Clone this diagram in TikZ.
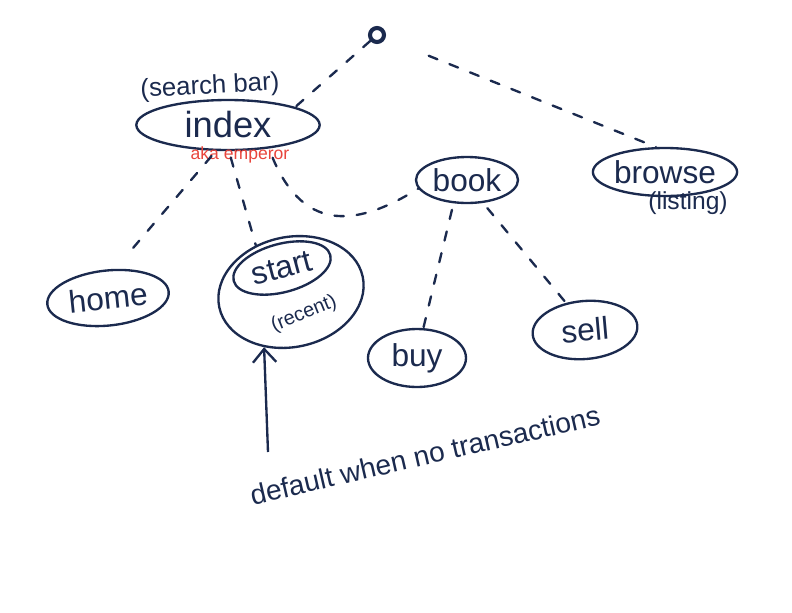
\documentclass[tikz,border=0pt]{standalone}
\usepackage{fontspec}
\setmainfont{Liberation Sans}
\usepackage{tikz}
\usetikzlibrary{arrows.meta,positioning,shapes.geometric}
\definecolor{ink}{HTML}{1B2A4E}
\definecolor{akared}{HTML}{E8453C}
\tikzset{
  pagenode/.style={draw=ink, ellipse, line width=2pt, text=ink, inner sep=0pt, font=\fontsize{27}{30}\selectfont},
  rootdot/.style={draw=ink, circle, line width=3.5pt, minimum size=4.2mm, inner sep=0pt},
  note/.style={text=ink, font=\fontsize{21}{24}\selectfont, inner sep=1pt},
  akanote/.style={text=akared, font=\fontsize{15}{17}\selectfont, inner sep=0pt},
  link/.style={draw=ink, line width=2pt, dash pattern=on 8pt off 11pt, line cap=round},
  pointer/.style={-{Straight Barb[length=4mm,width=7mm]}, draw=ink, line width=2pt},
}
\begin{document}
\begin{tikzpicture}[x=0.3mm, y=-0.3mm]
\useasboundingbox (0,0) rectangle (792,612);
% pages
\node[rootdot] (root) at (377,35) {};
\node[pagenode, minimum width=55mm, minimum height=15mm, font=\fontsize{31}{34}\selectfont] (index) at (228,125) {index};
\node[pagenode, minimum width=30.6mm, minimum height=13.8mm] (book) at (467,180) {book};
\node[pagenode, minimum width=42mm, minimum height=14.4mm] (browse) at (665,172) {browse};
\node[pagenode, minimum width=36.6mm, minimum height=16.5mm, rotate=6] (home) at (108,298) {home};
\node[pagenode, minimum width=30mm, minimum height=14.5mm, rotate=15] (start) at (282,268) {start};
\node[pagenode, minimum width=44mm, minimum height=33mm, rotate=12] (startouter) at (291,292) {};
\node[pagenode, minimum width=29.4mm, minimum height=17.4mm] (buy) at (417,358) {buy};
\node[pagenode, minimum width=31.5mm, minimum height=17.4mm, rotate=5] (sell) at (585,330) {sell};
% notes
\node[note, font=\fontsize{22}{24}\selectfont, rotate=3] (searchbar) at (210,87) {(search bar)};
\node[akanote] (aka) at (240,155) {aka emperor};
\node[note] (listing) at (688,203) {(listing)};
\node[note, font=\fontsize{17}{19}\selectfont, rotate=22] (recent) at (304,314) {(recent)};
\node[note, font=\fontsize{24}{28}\selectfont, rotate=13] (default) at (425,455) {default when no transactions};
\coordinate (tail) at (268,452);
% links
\draw[link] (root) -- (index.15);
\draw[link, shorten <=14mm] (root) -- (browse.110);
\draw[link, shorten <=2mm, shorten >=5mm] (index.245) -- (home.70);
\draw[link, shorten <=2mm] (index.272) -- (startouter.115);
\draw[link, shorten <=3mm] (index.330) .. controls (305,235) and (360,225) .. (book.190);
\draw[link, shorten <=2mm] (book.240) -- (buy.78);
\draw[link, shorten <=2mm] (book.305) -- (sell.120);
\draw[pointer] (tail) -- (startouter.232);
\end{tikzpicture}
\end{document}
